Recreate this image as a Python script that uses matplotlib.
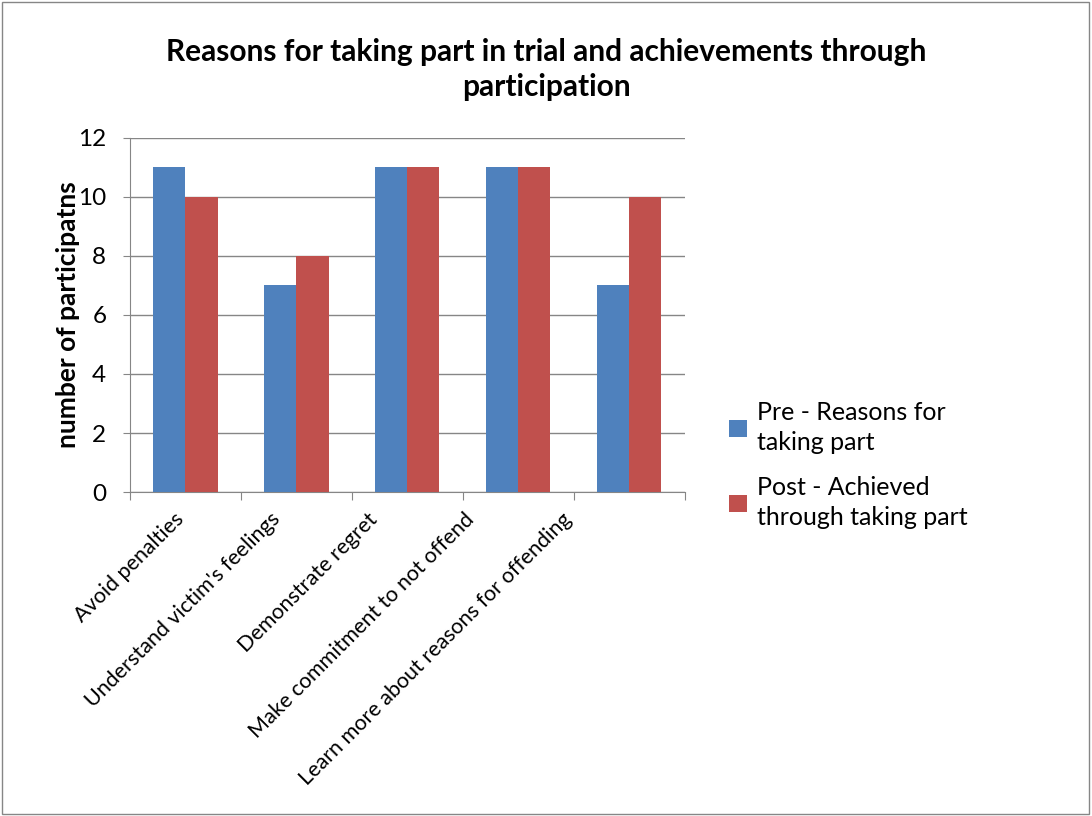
import matplotlib.pyplot as plt
import numpy as np
from matplotlib.patches import Rectangle
from matplotlib.transforms import ScaledTranslation

categories = ["Avoid penalties", "Understand victim's feelings", "Demonstrate regret",
              "Make commitment to not offend", "Learn more about reasons for offending"]
pre_values = [11, 7, 11, 11, 7]
post_values = [10, 8, 11, 11, 10]
series_names = ["Pre - Reasons for\ntaking part", "Post - Achieved\nthrough taking part"]
y_ticks = [0, 2, 4, 6, 8, 10, 12]

plt.rcParams['font.family'] = ['Lato', 'DejaVu Sans']
grey = '#868686'

fig = plt.figure(figsize=(10.92, 8.16), dpi=100)
fig.patches.append(Rectangle((0.002, 0.003), 0.995, 0.994, transform=fig.transFigure,
                             fill=False, edgecolor=grey, linewidth=1))
ax = fig.add_axes([0.119, 0.397, 0.508, 0.434])

x = np.arange(len(categories))
w = 0.29
b1 = ax.bar(x - w / 2, pre_values, w, color='#4F81BD', label=series_names[0], zorder=3)
b2 = ax.bar(x + w / 2, post_values, w, color='#C0504D', label=series_names[1], zorder=3)

ax.set_xlim(-0.5, len(categories) - 0.5)
ax.set_ylim(0, 12)
ax.set_yticks(y_ticks)
ax.tick_params(axis='y', labelsize=17.5, length=5, color=grey, pad=12)
ax.yaxis.grid(True, color=grey, linewidth=1, zorder=0)

# ticks sit between categories, labels are drawn as text below
ax.set_xticks(np.arange(-0.5, len(categories), 1))
ax.set_xticklabels([])
ax.tick_params(axis='x', which='major', length=6, color=grey)
# excel packs the rotated labels a bit tighter than the categories
base = ax.get_xaxis_transform()
for i, cat in enumerate(categories):
    off = ScaledTranslation(-(0.12 + 0.14 * i), -0.17, fig.dpi_scale_trans)
    ax.text(x[i], 0, cat, transform=base + off, rotation=45, ha='right', va='top',
            rotation_mode='anchor', fontsize=15.5)

for s in ['top', 'right']:
    ax.spines[s].set_visible(False)
for s in ['left', 'bottom']:
    ax.spines[s].set_color(grey)

ax.set_ylabel('number of participatns', fontsize=19, fontweight='bold')
ax.yaxis.set_label_coords(-0.09, 0.5)
fig.text(0.5, 0.915, 'Reasons for taking part in trial and achievements through\nparticipation',
         ha='center', va='center', fontsize=21.5, fontweight='bold', linespacing=1.3)

leg = fig.legend(handles=[b1, b2], loc='center left', bbox_to_anchor=(0.647, 0.43),
                 frameon=False, fontsize=18, handlelength=0.7, handleheight=0.7,
                 handletextpad=0.4, labelspacing=0.9)
for t in leg.get_texts():
    t.set_linespacing(1.35)

fig.savefig('out.png', dpi=100)
